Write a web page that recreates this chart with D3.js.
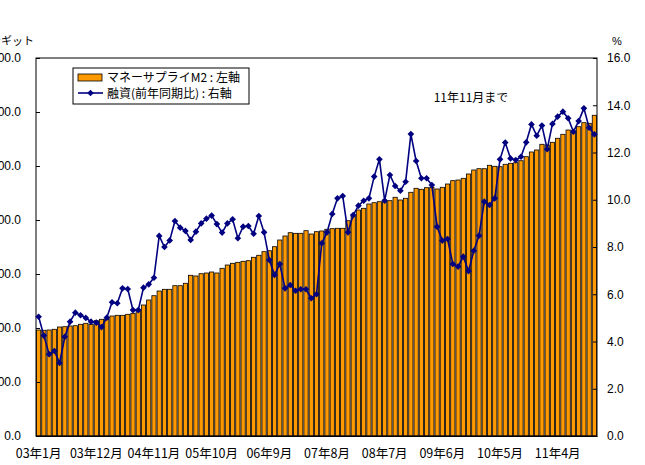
<!DOCTYPE html>
<html>
<head>
<meta charset="utf-8">
<script src="https://cdn.jsdelivr.net/npm/d3@7.9.0/dist/d3.min.js"></script>
<style>
  body { margin: 0; background: #fff; }
  svg { display: block; }
  text { font-family: "Liberation Sans", Arial, sans-serif; fill: #000; }
  .jp { font-family: "Noto Sans CJK JP", sans-serif; }
</style>
</head>
<body>
<svg id="chart" width="645" height="465"></svg>
<script>
// money supply M2 (billion ringgit), Jan 2003 - Nov 2011
const m2 = [
  392.6, 391.5, 392.6, 395.2, 403.7, 404.8, 407.4, 408.5, 413.7, 417.4, 413.7, 427.0,
  432.2, 432.2, 444.4, 447.0, 447.0, 450.7, 454.4, 466.7, 485.2, 503.7, 519.6, 537.0,
  543.3, 543.3, 556.7, 556.7, 565.6, 595.2, 592.6, 601.1, 603.7, 607.4, 603.7, 621.1,
  633.3, 639.6, 643.3, 647.0, 649.3, 661.9, 669.3, 682.6, 686.3, 701.1, 725.9, 740.7,
  753.0, 750.7, 750.7, 760.4, 748.1, 756.7, 759.3, 765.6, 767.8, 769.3, 769.3, 797.4,
  814.8, 837.0, 843.3, 859.3, 864.1, 867.8, 874.1, 871.5, 884.1, 874.1, 880.4, 902.6,
  917.4, 913.7, 919.6, 921.1, 914.8, 921.1, 933.3, 945.6, 948.1, 954.4, 970.4, 985.2,
  990.0, 990.0, 1002.6, 998.9, 997.4, 1006.3, 1010.0, 1012.2, 1019.6, 1034.4, 1051.9, 1059.3,
  1080.4, 1077.8, 1087.8, 1102.6, 1117.4, 1133.3, 1130.7, 1145.6, 1160.4, 1158.1, 1187.8
];

// loans, year-on-year %
const loans = [
  5.05, 4.25, 3.46, 3.60, 3.09, 4.20, 4.84, 5.22, 5.11, 5.00, 4.84, 4.80,
  4.61, 5.01, 5.66, 5.62, 6.25, 6.22, 5.33, 5.33, 6.28, 6.42, 6.70, 8.47,
  8.00, 8.28, 9.10, 8.82, 8.68, 8.30, 8.65, 9.00, 9.20, 9.33, 8.97, 8.61,
  9.00, 9.17, 8.37, 8.86, 8.89, 8.56, 9.31, 8.62, 7.45, 6.82, 7.28, 6.25,
  6.39, 6.15, 6.21, 6.21, 5.83, 6.00, 8.16, 8.62, 9.40, 10.06, 10.16, 8.62,
  9.35, 9.75, 9.96, 10.06, 10.98, 11.71, 9.96, 11.05, 10.58, 10.38, 10.76, 12.78,
  11.64, 10.91, 10.91, 10.62, 8.86, 8.27, 8.34, 7.28, 7.17, 7.59, 6.98, 7.84,
  8.48, 9.92, 9.78, 10.06, 11.71, 12.42, 11.75, 11.68, 11.82, 12.43, 13.19, 12.71,
  13.14, 12.14, 13.21, 13.52, 13.73, 13.45, 12.88, 13.33, 13.87, 13.05, 12.77
];

const tickLabels = ['03年1月', '03年12月', '04年11月', '05年10月', '06年9月',
                    '07年8月', '08年7月', '09年6月', '10年5月', '11年4月'];
const leftTicks = [0, 200, 400, 600, 800, 1000, 1200, 1400];
const rightTicks = [0, 2, 4, 6, 8, 10, 12, 14, 16];

const months = [];
for (let y = 3; y <= 11; y++) {
  for (let m = 1; m <= 12; m++) {
    if (months.length < m2.length) months.push(String(y).padStart(2, '0') + '年' + m + '月');
  }
}

const orange = '#FF9900';
const navy = '#000080';
const plotL = 36, plotR = 597, plotT = 58, plotB = 436;

const svg = d3.select('#chart');

const x = d3.scaleBand().domain(months).range([plotL, plotR]).padding(0);
const yL = d3.scaleLinear().domain([0, 1400]).range([plotB, plotT]);
const yR = d3.scaleLinear().domain([0, 16]).range([plotB, plotT]);

// bars
svg.append('g').selectAll('rect')
  .data(m2)
  .join('rect')
  .attr('x', (d, i) => x(months[i]) + 0.5)
  .attr('y', d => yL(d))
  .attr('width', x.bandwidth() - 1)
  .attr('height', d => plotB - yL(d))
  .attr('fill', orange)
  .attr('stroke', '#000')
  .attr('stroke-width', 0.8);

// frame
svg.append('rect')
  .attr('x', plotL).attr('y', plotT)
  .attr('width', plotR - plotL).attr('height', plotB - plotT)
  .attr('fill', 'none').attr('stroke', '#000').attr('stroke-width', 1);

// left axis
svg.append('g')
  .attr('transform', `translate(${plotL},0)`)
  .call(d3.axisLeft(yL).tickValues(leftTicks).tickFormat(d3.format('.1f'))
    .tickSizeInner(-4).tickSizeOuter(0).tickPadding(15))
  .call(g => g.select('.domain').remove())
  .call(g => g.selectAll('text').attr('font-size', 12).attr('font-family', '"Liberation Sans", Arial, sans-serif'));

// right axis
svg.append('g')
  .attr('transform', `translate(${plotR},0)`)
  .call(d3.axisRight(yR).tickValues(rightTicks).tickFormat(d3.format('.1f'))
    .tickSizeInner(-4).tickSizeOuter(0).tickPadding(10))
  .call(g => g.select('.domain').remove())
  .call(g => g.selectAll('text').attr('font-size', 12).attr('font-family', '"Liberation Sans", Arial, sans-serif'));

// bottom axis labels
svg.append('g')
  .attr('transform', `translate(0,${plotB})`)
  .call(d3.axisBottom(x).tickValues(tickLabels).tickSize(0).tickPadding(13))
  .call(g => g.select('.domain').attr('stroke', '#000'))
  .call(g => g.selectAll('text').attr('font-size', 12.5).attr('class', 'jp'));

// loan line
const line = d3.line()
  .x((d, i) => x(months[i]) + x.bandwidth() / 2)
  .y(d => yR(d));

svg.append('path')
  .datum(loans)
  .attr('d', line)
  .attr('fill', 'none')
  .attr('stroke', navy)
  .attr('stroke-width', 1.6);

const diamond = d3.symbol().type(d3.symbolSquare).size(22);
svg.append('g').selectAll('path')
  .data(loans)
  .join('path')
  .attr('d', diamond)
  .attr('transform', (d, i) => `translate(${x(months[i]) + x.bandwidth() / 2},${yR(d)}) rotate(45)`)
  .attr('fill', navy);

// unit labels
svg.append('text').attr('class', 'jp').attr('x', 34).attr('y', 45)
  .attr('text-anchor', 'end').attr('font-size', 11).text('十億リンギット');
svg.append('text').attr('x', 617).attr('y', 45)
  .attr('text-anchor', 'middle').attr('font-size', 11).text('%');

// legend
const lg = svg.append('g');
lg.append('rect').attr('x', 73).attr('y', 68).attr('width', 176).attr('height', 36)
  .attr('fill', '#fff').attr('stroke', '#000').attr('stroke-width', 1);
lg.append('rect').attr('x', 78).attr('y', 74).attr('width', 24).attr('height', 7)
  .attr('fill', orange).attr('stroke', '#000').attr('stroke-width', 0.8);
lg.append('text').attr('class', 'jp').attr('x', 107).attr('y', 82)
  .attr('font-size', 12).text('マネーサプライM2 : 左軸');
lg.append('line').attr('x1', 78).attr('x2', 103).attr('y1', 93).attr('y2', 93)
  .attr('stroke', navy).attr('stroke-width', 1.6);
lg.append('path').attr('d', diamond).attr('transform', 'translate(90.5,93) rotate(45)').attr('fill', navy);
lg.append('text').attr('class', 'jp').attr('x', 107).attr('y', 97.5)
  .attr('font-size', 12).text('融資(前年同期比) : 右軸');

// note
svg.append('text').attr('class', 'jp').attr('x', 471).attr('y', 102)
  .attr('text-anchor', 'middle').attr('font-size', 12).text('11年11月まで');
</script>
</body>
</html>
